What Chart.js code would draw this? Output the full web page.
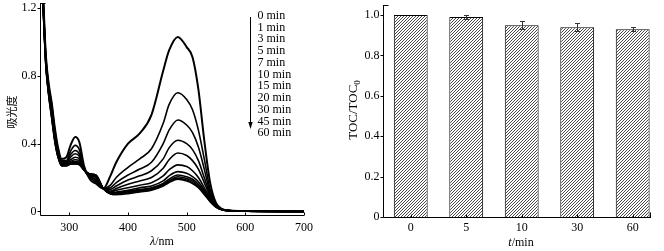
<!DOCTYPE html>
<html>
<head>
<meta charset="utf-8">
<script src="https://cdn.jsdelivr.net/npm/chart.js@4/dist/chart.umd.min.js"></script>
<style>
html, body { margin: 0; padding: 0; background: #fff; }
#wrap { position: relative; width: 664px; height: 251px; }
canvas { position: absolute; top: 0; }
#spec { left: 0; }
#toc { left: 330px; }
</style>
</head>
<body>
<div id="wrap">
  <canvas id="spec" width="330" height="251"></canvas>
  <canvas id="toc" width="334" height="251"></canvas>
</div>
<script>
// ---- left panel: UV-vis spectra ----
const wavelengths = [250, 256, 260, 265, 270, 275, 280, 287, 295, 302, 310, 317, 325, 335, 345, 358, 370, 380, 400, 420, 440, 460, 470, 485, 500, 510, 520, 530, 540, 550, 560, 575, 600, 700];

const abs0min  = [1.70, 1.22, 0.92, 0.75, 0.64, 0.50, 0.39, 0.31, 0.32, 0.39, 0.44, 0.41, 0.27, 0.19, 0.165, 0.135, 0.21, 0.29, 0.40, 0.46, 0.57, 0.83, 0.95, 1.03, 0.97, 0.91, 0.72, 0.42, 0.17, 0.05, 0.015, 0.005, 0.002, 0];
const abs1min  = [1.69, 1.21, 0.91, 0.74, 0.63, 0.49, 0.38, 0.30, 0.30, 0.355, 0.39, 0.365, 0.255, 0.20, 0.175, 0.135, 0.155, 0.20, 0.26, 0.31, 0.37, 0.52, 0.63, 0.70, 0.66, 0.60, 0.48, 0.31, 0.13, 0.045, 0.013, 0.005, 0.002, 0];
const abs3min  = [1.68, 1.20, 0.90, 0.73, 0.62, 0.48, 0.37, 0.295, 0.295, 0.335, 0.36, 0.34, 0.25, 0.205, 0.185, 0.135, 0.14, 0.17, 0.215, 0.25, 0.29, 0.40, 0.48, 0.54, 0.51, 0.465, 0.38, 0.25, 0.11, 0.04, 0.012, 0.004, 0.002, 0];
const abs5min  = [1.68, 1.19, 0.89, 0.72, 0.61, 0.47, 0.36, 0.29, 0.29, 0.32, 0.34, 0.325, 0.245, 0.21, 0.19, 0.135, 0.13, 0.15, 0.185, 0.21, 0.24, 0.31, 0.375, 0.42, 0.40, 0.365, 0.30, 0.20, 0.10, 0.037, 0.012, 0.004, 0.002, 0];
const abs7min  = [1.67, 1.18, 0.89, 0.71, 0.60, 0.46, 0.355, 0.285, 0.285, 0.305, 0.32, 0.31, 0.245, 0.215, 0.20, 0.135, 0.12, 0.135, 0.16, 0.18, 0.20, 0.255, 0.305, 0.345, 0.33, 0.30, 0.25, 0.17, 0.09, 0.034, 0.012, 0.004, 0.002, 0];
const abs10min = [1.67, 1.17, 0.88, 0.70, 0.59, 0.45, 0.35, 0.28, 0.28, 0.295, 0.305, 0.30, 0.245, 0.215, 0.205, 0.135, 0.115, 0.125, 0.14, 0.155, 0.17, 0.21, 0.245, 0.275, 0.265, 0.24, 0.20, 0.14, 0.08, 0.032, 0.011, 0.004, 0.002, 0];
const abs15min = [1.66, 1.17, 0.88, 0.70, 0.58, 0.44, 0.345, 0.275, 0.275, 0.29, 0.295, 0.29, 0.245, 0.22, 0.21, 0.135, 0.11, 0.115, 0.125, 0.14, 0.15, 0.18, 0.21, 0.235, 0.225, 0.205, 0.175, 0.125, 0.072, 0.03, 0.011, 0.004, 0.002, 0];
const abs20min = [1.66, 1.16, 0.87, 0.69, 0.57, 0.43, 0.34, 0.275, 0.275, 0.285, 0.29, 0.285, 0.245, 0.22, 0.21, 0.135, 0.11, 0.11, 0.12, 0.13, 0.14, 0.165, 0.19, 0.215, 0.205, 0.19, 0.16, 0.115, 0.067, 0.028, 0.011, 0.004, 0.002, 0];
const abs30min = [1.65, 1.16, 0.87, 0.69, 0.56, 0.43, 0.335, 0.27, 0.27, 0.28, 0.285, 0.28, 0.245, 0.22, 0.215, 0.135, 0.105, 0.105, 0.115, 0.125, 0.135, 0.16, 0.18, 0.205, 0.195, 0.18, 0.15, 0.11, 0.063, 0.027, 0.01, 0.004, 0.002, 0];
const abs45min = [1.65, 1.15, 0.86, 0.68, 0.55, 0.42, 0.33, 0.27, 0.27, 0.28, 0.28, 0.28, 0.245, 0.22, 0.215, 0.135, 0.105, 0.10, 0.11, 0.12, 0.13, 0.155, 0.175, 0.195, 0.185, 0.17, 0.145, 0.105, 0.06, 0.026, 0.01, 0.004, 0.002, 0];
const abs60min = [1.65, 1.15, 0.86, 0.68, 0.55, 0.42, 0.33, 0.27, 0.27, 0.28, 0.28, 0.275, 0.245, 0.22, 0.215, 0.135, 0.105, 0.10, 0.105, 0.115, 0.125, 0.15, 0.17, 0.19, 0.18, 0.165, 0.14, 0.10, 0.058, 0.025, 0.01, 0.004, 0.002, 0];

const spectra = [abs0min, abs1min, abs3min, abs5min, abs7min, abs10min, abs15min, abs20min, abs30min, abs45min, abs60min];
const timeLabels = ['0 min', '1 min', '3 min', '5 min', '7 min', '10 min', '15 min', '20 min', '30 min', '45 min', '60 min'];
const wlTicks = [300, 400, 500, 600, 700];
const absTicks = [0, 0.4, 0.8, 1.2];
const absTickLabels = ['0', '0.4', '0.8', '1.2'];

// ---- right panel: TOC removal ----
const tocTimes = ['0', '5', '10', '30', '60'];
const tocValues = [1.0, 0.99, 0.95, 0.94, 0.93];
const tocErrors = [0, 0.01, 0.02, 0.02, 0.01];
const tocTicks = [0, 0.2, 0.4, 0.6, 0.8, 1.0];
const tocTickLabels = ['0', '0.2', '0.4', '0.6', '0.8', '1.0'];

const SERIF = '"Liberation Serif", "Times New Roman", serif';

// axes drawn by hand: outward y ticks, inward x ticks, small cap at the top
function axesPlugin(o) {
    return {
        id: 'axes',
        afterDraw(chart) {
            const ctx = chart.ctx, a = chart.chartArea;
            const xs = chart.scales.x, ys = chart.scales.y;
            ctx.save();
            ctx.strokeStyle = '#000';
            ctx.lineWidth = 1;
            ctx.beginPath();
            const L = Math.round(a.left) + 0.5, B = Math.round(a.bottom) + 0.5;
            ctx.moveTo(L, a.top);
            ctx.lineTo(L, B);
            ctx.lineTo(a.right, B);
            ctx.moveTo(L, a.top + 0.5);
            ctx.lineTo(L + 5, a.top + 0.5);
            if (o.endTick) {
                ctx.moveTo(Math.round(a.right) - 0.5, B);
                ctx.lineTo(Math.round(a.right) - 0.5, B - 5);
            }
            o.yTicks.forEach(v => {
                const y = Math.round(ys.getPixelForValue(v)) + 0.5;
                ctx.moveTo(L - 3, y);
                ctx.lineTo(L, y);
            });
            o.xTicks.forEach(v => {
                const x = Math.round(xs.getPixelForValue(v)) + 0.5;
                ctx.moveTo(x, B);
                ctx.lineTo(x, B - 3);
            });
            ctx.stroke();

            ctx.fillStyle = '#000';
            ctx.font = '12px ' + SERIF;
            ctx.textAlign = 'right';
            ctx.textBaseline = 'middle';
            o.yTicks.forEach((v, i) => ctx.fillText(o.yLabels[i], L - 4, ys.getPixelForValue(v)));
            ctx.textAlign = 'center';
            o.xTicks.forEach((v, i) => ctx.fillText(o.xLabels[i], xs.getPixelForValue(v), o.xLabelY));
            ctx.restore();
            if (o.extra) o.extra(chart);
        }
    };
}

// mixed italic / upright title, centred
function drawTitle(ctx, parts, cx, cy) {
    ctx.save();
    ctx.textBaseline = 'middle';
    ctx.textAlign = 'left';
    let w = 0;
    parts.forEach(p => { ctx.font = p[1]; w += ctx.measureText(p[0]).width; });
    let x = cx - w / 2;
    parts.forEach(p => { ctx.font = p[1]; ctx.fillText(p[0], x, cy); x += ctx.measureText(p[0]).width; });
    ctx.restore();
}

new Chart(document.getElementById('spec').getContext('2d'), {
    type: 'line',
    data: {
        datasets: spectra.map((arr, k) => ({
            label: timeLabels[k],
            data: wavelengths.map((w, i) => ({ x: w, y: arr[i] })),
            borderColor: '#000',
            borderWidth: k === 0 ? 2 : 1.6,
            pointRadius: 0,
            fill: false,
            cubicInterpolationMode: 'monotone'
        }))
    },
    options: {
        responsive: false,
        animation: false,
        events: [],
        layout: { autoPadding: false, padding: { left: 40, top: 3, right: 26, bottom: 36 } },
        plugins: { legend: { display: false }, tooltip: { enabled: false } },
        scales: {
            x: { type: 'linear', min: 250, max: 700, display: false },
            y: { type: 'linear', min: -0.021, max: 1.23, display: false }
        }
    },
    plugins: [axesPlugin({
        yTicks: absTicks, yLabels: absTickLabels,
        xTicks: wlTicks, xLabels: wlTicks.map(String), xLabelY: 228,
        extra(chart) {
            const ctx = chart.ctx;
            ctx.save();
            ctx.fillStyle = '#000';
            ctx.strokeStyle = '#000';
            // legend list with arrow
            ctx.font = '12px ' + SERIF;
            ctx.textAlign = 'left';
            ctx.textBaseline = 'middle';
            timeLabels.forEach((t, i) => ctx.fillText(t, 257.5, 15.7 + i * 11.75));
            ctx.lineWidth = 1;
            ctx.beginPath();
            ctx.moveTo(250.5, 17);
            ctx.lineTo(250.5, 123);
            ctx.stroke();
            ctx.beginPath();
            ctx.moveTo(248.3, 122);
            ctx.lineTo(252.7, 122);
            ctx.lineTo(250.5, 129);
            ctx.closePath();
            ctx.fill();
            // axis titles
            drawTitle(ctx, [['λ', 'italic 12px ' + SERIF], ['/nm', '12px ' + SERIF]], 162, 242);
            ctx.translate(12, 112);
            ctx.rotate(-Math.PI / 2);
            ctx.font = '11px "Noto Sans CJK SC", sans-serif';
            ctx.textAlign = 'center';
            ctx.fillText('吸光度', 0, 0);
            ctx.restore();
        }
    })]
});

// fine diagonal hatch fill for the bars
function hatch() {
    const c = document.createElement('canvas');
    c.width = 3; c.height = 3;
    const g = c.getContext('2d');
    g.fillStyle = '#fff';
    g.fillRect(0, 0, 3, 3);
    g.fillStyle = '#4a4a4a';
    g.fillRect(0, 2, 1, 1);
    g.fillRect(1, 1, 1, 1);
    g.fillRect(2, 0, 1, 1);
    return g.createPattern(c, 'repeat');
}

const tocCtx = document.getElementById('toc').getContext('2d');
new Chart(tocCtx, {
    type: 'bar',
    data: {
        datasets: [{
            data: tocValues.map((v, i) => ({ x: i, y: v })),
            backgroundColor: hatch(),
            borderColor: '#000',
            borderWidth: 1,
            barPercentage: 0.61,
            categoryPercentage: 1
        }]
    },
    options: {
        responsive: false,
        animation: false,
        events: [],
        layout: { autoPadding: false, padding: { left: 53, top: 5, right: 13, bottom: 34 } },
        plugins: { legend: { display: false }, tooltip: { enabled: false } },
        scales: {
            x: { type: 'linear', min: -0.5, max: 4.33, offset: false, display: false },
            y: { type: 'linear', min: 0, max: 1.05, display: false }
        }
    },
    plugins: [axesPlugin({
        yTicks: tocTicks, yLabels: tocTickLabels,
        xTicks: tocTimes.map((t, i) => i), xLabels: tocTimes, xLabelY: 228,
        endTick: true,
        extra(chart) {
            const ctx = chart.ctx, xs = chart.scales.x, ys = chart.scales.y;
            ctx.save();
            // error bars
            ctx.strokeStyle = '#333';
            ctx.lineWidth = 1;
            ctx.beginPath();
            tocValues.forEach((v, i) => {
                if (!tocErrors[i]) return;
                const x = Math.round(xs.getPixelForValue(i)) + 0.5;
                const y1 = Math.round(ys.getPixelForValue(v + tocErrors[i])) + 0.5;
                const y2 = Math.round(ys.getPixelForValue(v - tocErrors[i])) + 0.5;
                ctx.moveTo(x, y1); ctx.lineTo(x, y2);
                ctx.moveTo(x - 2.5, y1); ctx.lineTo(x + 2.5, y1);
                ctx.moveTo(x - 2.5, y2); ctx.lineTo(x + 2.5, y2);
            });
            ctx.stroke();
            ctx.fillStyle = '#000';
            drawTitle(ctx, [['t', 'italic 12px ' + SERIF], ['/min', '12px ' + SERIF]], 191, 243);
            // rotated y title with subscript
            ctx.translate(24, 110);
            ctx.rotate(-Math.PI / 2);
            ctx.textBaseline = 'middle';
            ctx.textAlign = 'left';
            ctx.font = '13px ' + SERIF;
            const main = 'TOC/TOC';
            const wMain = ctx.measureText(main).width;
            ctx.font = '9px ' + SERIF;
            const wSub = ctx.measureText('0').width;
            const x0 = -(wMain + wSub) / 2;
            ctx.font = '13px ' + SERIF;
            ctx.fillText(main, x0, 0);
            ctx.font = '9px ' + SERIF;
            ctx.fillText('0', x0 + wMain, 4);
            ctx.restore();
        }
    })]
});
</script>
</body>
</html>
